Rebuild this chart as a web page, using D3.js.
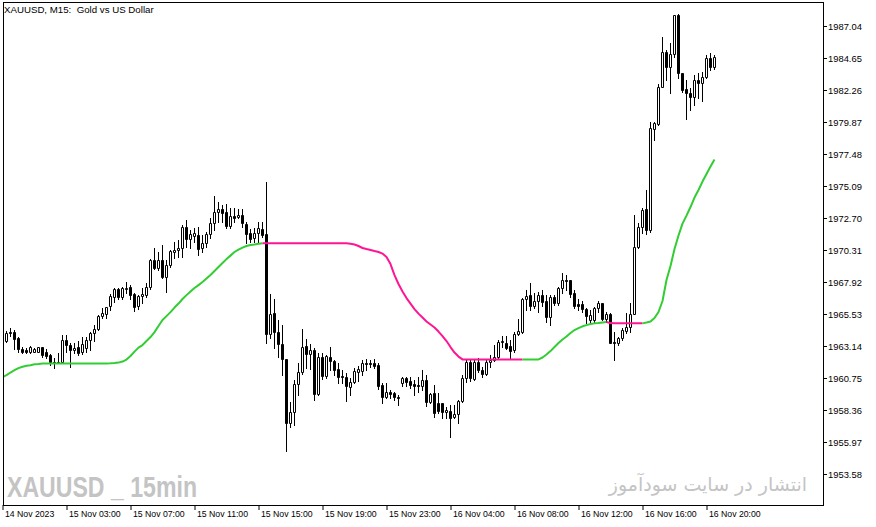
<!DOCTYPE html>
<html><head><meta charset="utf-8">
<script src="https://cdn.jsdelivr.net/npm/d3@7"></script>
<style>html,body{margin:0;padding:0;background:#fff;} svg{display:block;}</style>
</head><body>
<svg id="chart" width="876" height="527"></svg>
<script>
// ---- data (XAUUSD M15) ----
const openP = [
1963.66,1963.53,1964.20,1964.18,1963.75,1962.91,1962.84,1962.66,1962.71,1962.71,
1963.04,1962.66,1962.46,1961.94,1961.89,1961.91,1963.58,1963.21,1962.81,1963.04,
1962.66,1963.01,1963.56,1964.08,1964.40,1965.37,1965.55,1966.12,1966.82,1967.37,
1966.77,1967.39,1967.56,1967.02,1966.12,1966.89,1966.94,1967.52,1969.56,1968.98,
1969.56,1968.31,1969.18,1970.18,1970.31,1970.43,1972.00,1971.10,1971.37,1971.43,
1970.43,1970.81,1971.48,1972.30,1973.12,1973.37,1973.12,1972.12,1972.84,1972.75,
1972.90,1972.25,1971.55,1971.18,1971.55,1971.87,1971.48,1964.01,1965.58,1964.20,
1963.26,1962.14,1957.36,1958.23,1960.27,1961.17,1963.11,1962.51,1962.84,1959.53,
1962.29,1960.92,1962.29,1962.04,1961.42,1960.89,1960.84,1960.09,1960.42,1961.19,
1961.29,1961.84,1961.89,1961.84,1961.72,1960.22,1959.35,1959.67,1959.60,1959.35,
1960.39,1960.77,1960.52,1960.27,1960.20,1960.17,1960.59,1958.97,1959.60,1958.85,
1958.85,1958.18,1958.28,1957.81,1958.03,1959.05,1960.72,1961.96,1960.67,1961.96,
1961.33,1961.02,1961.96,1962.09,1962.33,1963.41,1963.34,1963.13,1962.84,1964.03,
1964.20,1966.64,1966.94,1966.14,1966.52,1966.94,1966.49,1965.28,1966.82,1966.37,
1967.44,1968.06,1968.06,1967.07,1966.25,1966.27,1965.88,1965.08,1965.08,1965.95,
1966.32,1965.15,1965.50,1963.46,1963.38,1963.71,1964.28,1964.53,1965.53,1970.51,
1972.00,1973.35,1971.80,1979.32,1979.69,1982.50,1985.07,1983.99,1984.95,1987.86,
1983.50,1982.33,1982.01,1981.76,1983.00,1982.80,1983.25,1984.62,1983.95];
const highP = [
1963.81,1964.28,1964.46,1964.33,1963.81,1963.04,1962.96,1963.16,1963.01,1963.08,
1963.08,1962.91,1962.51,1962.22,1962.59,1963.96,1963.96,1963.34,1963.34,1963.53,
1963.83,1963.83,1964.20,1964.70,1965.45,1965.95,1966.07,1967.00,1967.44,1967.44,
1967.52,1967.89,1967.69,1967.07,1966.94,1967.44,1967.82,1969.61,1970.43,1970.18,
1970.68,1969.56,1970.31,1970.92,1971.05,1972.17,1972.55,1971.80,1971.97,1972.05,
1971.43,1971.67,1972.67,1974.34,1973.91,1973.67,1973.72,1973.42,1973.46,1973.35,
1973.35,1972.42,1971.87,1971.93,1972.42,1972.42,1975.41,1967.00,1966.64,1965.08,
1964.70,1962.14,1958.97,1960.59,1961.84,1964.38,1963.63,1963.28,1963.01,1962.59,
1962.59,1962.46,1963.08,1962.08,1961.84,1961.33,1961.09,1960.77,1961.47,1961.64,
1962.09,1962.14,1962.09,1962.14,1961.84,1960.39,1960.35,1959.85,1959.72,1959.47,
1960.84,1960.84,1960.84,1960.59,1960.84,1961.33,1960.97,1959.65,1960.22,1959.60,
1958.90,1958.60,1958.73,1958.73,1959.10,1960.97,1962.09,1962.09,1962.14,1962.22,
1961.59,1962.09,1962.46,1963.21,1963.58,1963.88,1963.88,1963.58,1964.20,1965.13,
1966.70,1967.32,1967.82,1967.07,1967.19,1967.32,1966.94,1966.94,1966.94,1967.56,
1968.56,1968.44,1968.06,1967.32,1966.62,1966.52,1966.00,1965.82,1966.07,1966.50,
1966.37,1965.70,1965.58,1964.20,1963.83,1964.46,1965.62,1966.37,1972.92,1972.30,
1973.42,1974.79,1979.89,1979.89,1982.71,1986.24,1985.25,1985.74,1987.86,1987.93,
1983.55,1983.00,1982.38,1983.38,1983.50,1983.62,1984.87,1984.99,1984.87];
const lowP = [
1963.51,1963.46,1963.90,1962.91,1962.71,1962.59,1962.61,1962.59,1962.66,1962.66,
1962.34,1962.22,1961.71,1961.47,1961.84,1961.84,1962.71,1961.54,1962.59,1962.46,
1962.51,1962.71,1962.84,1963.53,1964.33,1965.20,1965.20,1965.82,1966.40,1966.62,
1966.62,1967.12,1966.62,1965.77,1965.90,1966.32,1966.82,1967.39,1968.89,1968.81,
1968.19,1967.19,1969.06,1969.69,1969.80,1969.80,1970.55,1970.43,1970.92,1969.93,
1970.13,1970.55,1971.18,1971.80,1972.42,1972.42,1971.93,1971.93,1972.42,1972.67,
1972.05,1970.81,1970.93,1970.93,1970.81,1971.30,1963.34,1963.71,1962.96,1962.33,
1960.97,1955.29,1957.11,1957.23,1959.47,1961.02,1961.47,1961.42,1959.10,1959.47,
1960.67,1960.77,1961.33,1960.97,1960.35,1960.35,1959.05,1959.47,1960.35,1960.52,
1960.97,1961.33,1961.59,1961.47,1959.90,1958.90,1959.23,1959.23,1959.10,1958.73,
1960.15,1960.15,1959.97,1959.47,1959.72,1959.85,1958.65,1958.85,1957.85,1958.11,
1957.79,1957.74,1956.36,1957.74,1957.37,1958.97,1960.47,1960.54,1960.59,1961.21,
1960.79,1960.97,1961.59,1962.04,1962.14,1963.08,1962.89,1962.14,1962.71,1963.96,
1964.13,1965.82,1965.82,1965.95,1965.67,1966.12,1964.95,1964.70,1966.20,1966.20,
1967.07,1967.32,1966.82,1965.95,1965.82,1965.70,1964.83,1964.83,1964.95,1965.70,
1965.08,1964.95,1963.34,1962.09,1963.21,1963.58,1964.13,1964.20,1965.53,1970.43,
1971.55,1971.50,1971.67,1978.52,1979.64,1982.46,1983.00,1982.06,1984.75,1983.13,
1982.13,1980.07,1980.76,1981.14,1981.64,1981.46,1983.13,1983.75,1983.80];
const closeP = [
1963.66,1964.13,1964.11,1963.66,1962.91,1962.66,1962.71,1963.04,1962.91,1963.04,
1962.46,1962.37,1961.96,1961.90,1961.94,1963.58,1963.21,1962.81,1963.01,1962.59,
1963.26,1963.58,1964.08,1964.40,1965.37,1965.62,1966.02,1966.87,1967.37,1966.77,
1967.44,1967.49,1966.98,1966.07,1966.87,1967.00,1967.52,1969.56,1968.98,1969.56,
1968.31,1969.18,1970.23,1970.31,1970.48,1972.00,1971.10,1971.48,1971.55,1970.36,
1970.81,1971.48,1972.30,1973.12,1973.37,1973.05,1972.12,1972.84,1972.72,1972.90,
1972.30,1971.50,1971.13,1971.55,1971.93,1971.43,1964.01,1965.50,1964.20,1963.26,
1962.14,1957.40,1958.23,1960.27,1961.17,1963.04,1962.51,1962.84,1959.53,1962.29,
1960.92,1962.39,1962.04,1961.33,1960.84,1960.79,1960.17,1960.42,1961.29,1961.42,
1961.84,1961.77,1961.77,1961.64,1960.15,1959.35,1959.67,1959.55,1959.30,1959.27,
1960.77,1960.47,1960.22,1960.17,1960.15,1960.59,1958.97,1959.55,1958.11,1958.30,
1958.23,1958.35,1957.74,1958.03,1959.05,1960.72,1961.96,1960.72,1961.96,1961.33,
1961.02,1961.96,1962.09,1962.33,1963.41,1963.51,1962.96,1962.76,1964.03,1964.25,
1966.62,1966.89,1966.14,1966.52,1966.94,1966.44,1965.28,1966.77,1966.32,1967.49,
1968.06,1967.99,1967.02,1966.14,1966.14,1965.88,1965.40,1965.45,1965.95,1966.37,
1965.15,1965.50,1963.38,1963.38,1963.71,1964.33,1964.53,1965.53,1970.51,1972.00,
1973.29,1971.80,1979.39,1979.77,1982.50,1985.07,1983.99,1984.95,1987.86,1983.50,
1982.26,1982.01,1981.76,1983.00,1982.76,1983.25,1984.67,1983.95,1984.74];
const maLine = [
1960.82,1960.97,1961.16,1961.33,1961.49,1961.59,1961.66,1961.71,1961.77,1961.79,
1961.84,1961.84,1961.84,1961.84,1961.84,1961.84,1961.84,1961.84,1961.84,1961.84,
1961.84,1961.84,1961.84,1961.84,1961.84,1961.84,1961.84,1961.85,1961.87,1961.90,
1961.98,1962.13,1962.39,1962.72,1963.02,1963.21,1963.51,1963.81,1964.18,1964.63,
1965.08,1965.37,1965.67,1966.01,1966.31,1966.65,1966.94,1967.21,1967.47,1967.69,
1967.92,1968.18,1968.44,1968.74,1969.04,1969.34,1969.63,1969.89,1970.16,1970.34,
1970.49,1970.61,1970.68,1970.72,1970.77,1970.81,1970.81,1970.81,1970.81,1970.81,
1970.81,1970.81,1970.81,1970.81,1970.81,1970.81,1970.81,1970.81,1970.81,1970.81,
1970.81,1970.81,1970.81,1970.81,1970.81,1970.81,1970.81,1970.77,1970.72,1970.61,
1970.46,1970.38,1970.31,1970.23,1970.16,1970.04,1969.78,1969.26,1968.44,1967.77,
1967.21,1966.72,1966.31,1965.90,1965.56,1965.27,1964.97,1964.74,1964.52,1964.22,
1963.88,1963.51,1963.06,1962.65,1962.35,1962.14,1962.14,1962.14,1962.14,1962.14,
1962.14,1962.14,1962.14,1962.14,1962.14,1962.14,1962.14,1962.14,1962.14,1962.14,
1962.14,1962.14,1962.14,1962.14,1962.14,1962.28,1962.50,1962.76,1963.06,1963.36,
1963.62,1963.85,1964.11,1964.33,1964.48,1964.61,1964.70,1964.78,1964.83,1964.85,
1964.89,1964.93,1964.85,1964.83,1964.83,1964.83,1964.83,1964.83,1964.83,1964.83,
1964.83,1964.89,1964.97,1965.23,1965.68,1966.50,1968.07,1969.11,1970.38,1971.39,
1972.28,1972.88,1973.52,1974.23,1974.79,1975.42,1975.98,1976.54,1977.07];
// bar-index ranges (segment end index) where the line is in "down" colour
const maDownRanges = [[66,130],[152,160]];
const priceTicks = [1953.58,1955.97,1958.36,1960.75,1963.14,1965.53,1967.92,1970.31,
                    1972.70,1975.09,1977.48,1979.87,1982.26,1984.65,1987.04];
const timeTickIndex = [0,16,32,48,64,80,96,112,128,144,160,176];
const timeTickLabels = ["14 Nov 2023","15 Nov 03:00","15 Nov 07:00","15 Nov 11:00",
  "15 Nov 15:00","15 Nov 19:00","15 Nov 23:00","16 Nov 04:00","16 Nov 08:00",
  "16 Nov 12:00","16 Nov 16:00","16 Nov 20:00"];
const titleText = "XAUUSD, M15:  Gold vs US Dollar";
const watermarkLeft = "XAUUSD _ 15min";
const watermarkRight = "انتشار در سایت سودآموز";

// ---- drawing ----
const svg = d3.select("#chart");
const n = closeP.length;
const plot = {left:3, top:2, right:823, bottom:505};
const x = d3.scaleLinear().domain([0, n-1]).range([2.5, 2.5 + 4*(n-1)]);
const y = d3.scaleLinear().domain([1953.58, 1987.04]).range([474, 26]);
const ry = v => Math.round(y(v));
const FONT = "'Liberation Sans', Arial, sans-serif";

svg.append("rect").attr("width",876).attr("height",527).attr("fill","#fff");

svg.append("defs").append("clipPath").attr("id","clip")
  .append("rect").attr("x",plot.left+1).attr("y",plot.top+1)
  .attr("width",plot.right-plot.left-1).attr("height",plot.bottom-plot.top-1);

// watermarks
svg.append("text").attr("x",7).attr("y",497)
  .attr("font-family","'Liberation Sans', Arial, sans-serif").attr("font-weight","bold")
  .attr("font-size",30).attr("fill","#c4c4c4")
  .attr("textLength",190).attr("lengthAdjust","spacingAndGlyphs")
  .text(watermarkLeft);
svg.append("text").attr("x",807).attr("y",491).attr("text-anchor","end")
  .attr("font-family","'DejaVu Sans', 'Noto Sans', sans-serif")
  .attr("font-size",19).attr("fill","#c4c4c4")
  .text(watermarkRight);

const g = svg.append("g").attr("clip-path","url(#clip)");

// candles
const cg = g.append("g");
d3.range(n).forEach(i => {
  const cx = x(i);
  const o = openP[i], c = closeP[i];
  const bull = c > o;
  cg.append("rect").attr("x", cx-0.5).attr("width",1)
    .attr("y", ry(highP[i])).attr("height", ry(lowP[i]) - ry(highP[i]) + 1)
    .attr("fill","#000");
  const yt = ry(Math.max(o,c)) + 0.5, yb = ry(Math.min(o,c)) + 0.5;
  cg.append("path")
    .attr("d", `M${cx-1},${yt}H${cx+1}V${yb}H${cx-1}Z`)
    .attr("fill", bull ? "#fff" : "#000")
    .attr("stroke","#000").attr("stroke-width",1);
});

// indicator line coloured by state
const isDown = i => maDownRanges.some(r => i >= r[0] && i <= r[1]);
const runs = [];
for (let i = 1; i < n; i++) {
  const col = isDown(i) ? "#ff1493" : "#32cd32";
  const last = runs[runs.length-1];
  if (last && last.col === col) last.idx.push(i);
  else runs.push({col, idx:[i-1, i]});
}
const line = d3.line().x(i => x(i)).y(i => y(maLine[i]));
runs.forEach(r => {
  g.append("path").attr("d", line(r.idx)).attr("fill","none")
    .attr("stroke", r.col).attr("stroke-width",2)
    .attr("stroke-linejoin","round").attr("stroke-linecap","butt");
});

// frame
svg.append("rect").attr("x",plot.left+0.5).attr("y",plot.top+0.5)
  .attr("width",plot.right-plot.left).attr("height",plot.bottom-plot.top)
  .attr("fill","none").attr("stroke","#000").attr("stroke-width",1);

// right price axis
const ya = svg.append("g").attr("transform",`translate(${plot.right},0)`)
  .call(d3.axisRight(y).tickValues(priceTicks).tickFormat(d3.format(".2f"))
        .tickSize(4).tickPadding(1));
ya.select(".domain").remove();
ya.selectAll("line").attr("stroke","#000");
ya.selectAll("text").attr("font-family",FONT).attr("font-size",9.4).attr("fill","#000");

// bottom time axis
const xa = svg.append("g").attr("transform",`translate(0,${plot.bottom})`)
  .call(d3.axisBottom(x).tickValues(timeTickIndex)
        .tickFormat((d,k) => timeTickLabels[k]).tickSize(5));
xa.select(".domain").remove();
xa.selectAll("line").attr("stroke","#000");
xa.selectAll("text").attr("font-family",FONT).attr("font-size",8.7).attr("fill","#000")
  .attr("text-anchor","start").attr("x",2).attr("y",11.5).attr("dy",0);

// title
svg.append("text").attr("x",4).attr("y",13)
  .attr("font-family",FONT).attr("font-size",9.7).attr("fill","#000")
  .style("white-space","pre").text(titleText);
</script>
</body></html>
